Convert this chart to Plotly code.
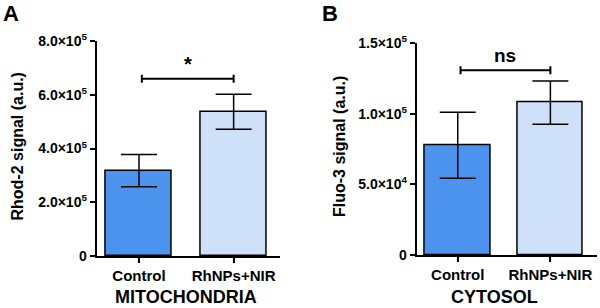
import plotly.graph_objects as go

categories = ["Control", "RhNPs+NIR"]
mito_values = [3.18e5, 5.37e5]
mito_errors = [0.60e5, 0.65e5]
cyto_values = [0.777e5, 1.08e5]
cyto_errors = [0.234e5, 0.153e5]
mito_ticks = [0, 2e5, 4e5, 6e5, 8e5]
mito_ticktext = ["0", "2.0×10<sup>5</sup>", "4.0×10<sup>5</sup>", "6.0×10<sup>5</sup>", "8.0×10<sup>5</sup>"]
cyto_ticks = [0, 5e4, 1e5, 1.5e5]
cyto_ticktext = ["0", "5.0×10<sup>4</sup>", "1.0×10<sup>5</sup>", "1.5×10<sup>5</sup>"]
bar_colors = ["#4c93ee", "#cfe1f8"]
mito_sig_y = 6.6e5
cyto_sig_y = 1.309e5

W, H = 600, 308
FONT = "Liberation Sans, Arial, sans-serif"

def px(x):
    return x / W

def py(y):
    return 1 - y / H

fig = go.Figure()
fig.add_trace(go.Bar(
    x=[0, 1], y=mito_values, width=0.7,
    marker=dict(color=bar_colors, line=dict(color="black", width=1.5)),
    error_y=dict(type="data", array=mito_errors, color="black", thickness=1.5, width=18),
    xaxis="x", yaxis="y", showlegend=False))
fig.add_trace(go.Bar(
    x=[0, 1], y=cyto_values, width=0.707,
    marker=dict(color=bar_colors, line=dict(color="black", width=1.5)),
    error_y=dict(type="data", array=cyto_errors, color="black", thickness=1.5, width=18),
    xaxis="x2", yaxis="y2", showlegend=False))

tickfont = dict(family=FONT, size=14, color="black", weight="bold")
catfont = dict(family=FONT, size=15, color="black", weight="bold")

common = dict(showline=True, linecolor="black", linewidth=2,
              ticks="outside", ticklen=5, tickwidth=1.5, tickcolor="black",
              showgrid=False, zeroline=False, automargin=False)

fig.update_layout(
    width=W, height=H, margin=dict(l=0, r=0, t=0, b=0, pad=0),
    plot_bgcolor="white", paper_bgcolor="white",
    bargap=0,
    xaxis=dict(domain=[px(96.7), px(280)], range=[-0.447, 1.49],
               tickvals=[0, 1], ticktext=categories, tickfont=catfont,
               anchor="y", **common),
    yaxis=dict(domain=[py(256), py(41)], range=[0, 8e5],
               tickvals=mito_ticks, ticktext=mito_ticktext, tickfont=tickfont,
               anchor="x", **common),
    xaxis2=dict(domain=[px(416.7), px(596.7)], range=[-0.443, 1.5],
                tickvals=[0, 1], ticktext=categories, tickfont=catfont,
                anchor="y2", **common),
    yaxis2=dict(domain=[py(255), py(43.3)], range=[0, 1.5e5],
                tickvals=cyto_ticks, ticktext=cyto_ticktext, tickfont=tickfont,
                anchor="x2", **common),
)

# significance brackets
for xr, yr, yv, span, lbl, lsize in [("x", "y", mito_sig_y, 8e5 / 215, "*", 20),
                                      ("x2", "y2", cyto_sig_y, 1.5e5 / 211.7, "ns", 19)]:
    fig.add_shape(type="line", xref=xr, yref=yr, x0=0.03, x1=1, y0=yv, y1=yv,
                  line=dict(color="black", width=2))
    for xe in [0.03, 1]:
        fig.add_shape(type="line", xref=xr, yref=yr, x0=xe, x1=xe,
                      y0=yv - 4 * span, y1=yv + 4 * span,
                      line=dict(color="black", width=2))
    fig.add_annotation(xref=xr, yref=yr, x=0.515, y=yv + 15 * span, text="<b>%s</b>" % lbl,
                       showarrow=False, yanchor="middle",
                       font=dict(family=FONT, size=lsize, color="black"))

# axis titles, panel titles, letters
anns = [
    (16.5, 147, "Rhod-2 signal (a.u.)", 16, -90),
    (339, 146, "Fluo-3 signal (a.u.)", 16, -90),
    (185.5, 297, "MITOCHONDRIA", 18, 0),
    (494.5, 297, "CYTOSOL", 18, 0),
    (11, 13, "A", 22, 0),
    (330, 13, "B", 22, 0),
]
for x, y, t, s, ang in anns:
    fig.add_annotation(xref="paper", yref="paper", x=px(x), y=py(y), text="<b>%s</b>" % t,
                       showarrow=False, textangle=ang, xanchor="center", yanchor="middle",
                       font=dict(family=FONT, size=s, color="black"))

fig.write_html(
    "out.html",
    config={"displayModeBar": False, "responsive": False},
    post_script=("document.documentElement.style.margin='0';"
                 "document.body.style.margin='0';"
                 "document.body.style.overflow='hidden';"
                 "document.documentElement.style.overflow='hidden';"),
)
